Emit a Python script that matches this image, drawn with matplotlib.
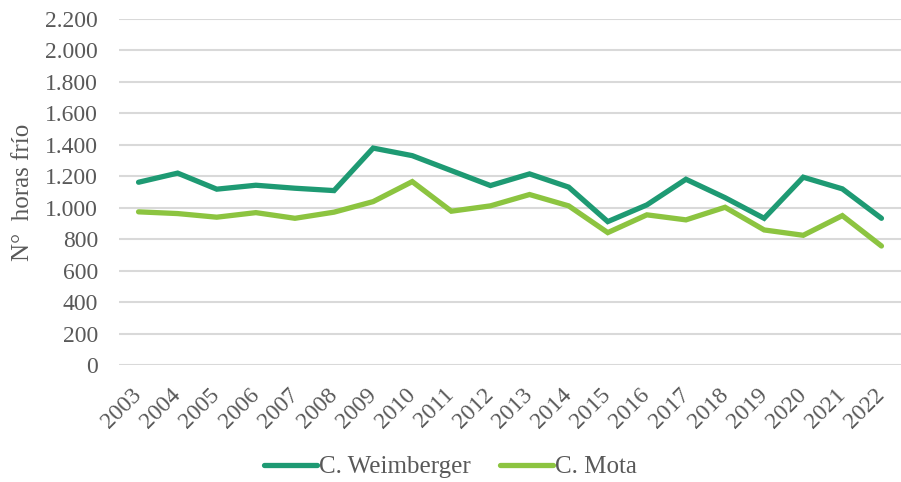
import matplotlib
matplotlib.use("Agg")
import matplotlib.pyplot as plt
from matplotlib.ticker import FuncFormatter

# --- データ ---
years = [str(y) for y in range(2003, 2023)]
weimberger = [1161, 1219, 1117, 1142, 1123, 1108, 1378, 1330, 1235, 1140,
              1214, 1130, 911, 1017, 1180, 1063, 932, 1193, 1119, 932]
mota = [973, 962, 939, 968, 932, 971, 1038, 1165, 977, 1011,
        1083, 1011, 841, 954, 922, 1002, 858, 824, 949, 756]

DARK = "#1E9A73"
LIGHT = "#8CC440"
GRAY = "#595959"
FS = 17

plt.rcParams["font.family"] = ["Liberation Serif", "DejaVu Serif"]

fig = plt.figure(figsize=(9.01, 4.82), dpi=100)
ax = fig.add_axes([119 / 901, 1 - 365 / 482, 782 / 901, (365 - 18.7) / 482])

x = range(len(years))
ax.plot(x, weimberger, color=DARK, linewidth=3.8, label="C. Weimberger",
        solid_capstyle="round", solid_joinstyle="miter")
ax.plot(x, mota, color=LIGHT, linewidth=3.8, label="C. Mota",
        solid_capstyle="round", solid_joinstyle="miter")

ax.set_xlim(-0.5, len(years) - 0.5)
ax.set_ylim(0, 2200)
ax.set_yticks(range(0, 2201, 200))
ax.yaxis.set_major_formatter(FuncFormatter(lambda v, p: f"{int(v):,}".replace(",", ".")))
ax.set_xticks(list(x))
ax.set_xticklabels(years, rotation=45, ha="right", va="center", rotation_mode="anchor")

ax.grid(axis="y", color="#D9D9D9", linewidth=1.5)
ax.set_axisbelow(True)
for s in ax.spines.values():
    s.set_visible(False)
ax.tick_params(axis="both", length=0, labelsize=FS, colors=GRAY)
ax.tick_params(axis="y", pad=15)
ax.tick_params(axis="x", pad=19)

# 縦軸タイトル
fig.text(23 / 901, 1 - 192 / 482, "N°  horas frío", rotation=90, ha="center",
         va="center", fontsize=18, color=GRAY)

fig.legend(loc="center", bbox_to_anchor=(0.5, 1 - 467 / 482), ncol=2, frameon=False,
           fontsize=18, handlelength=2.1, handletextpad=0.08, columnspacing=1.2,
           labelcolor=GRAY)

fig.savefig("out.png", dpi=100)
